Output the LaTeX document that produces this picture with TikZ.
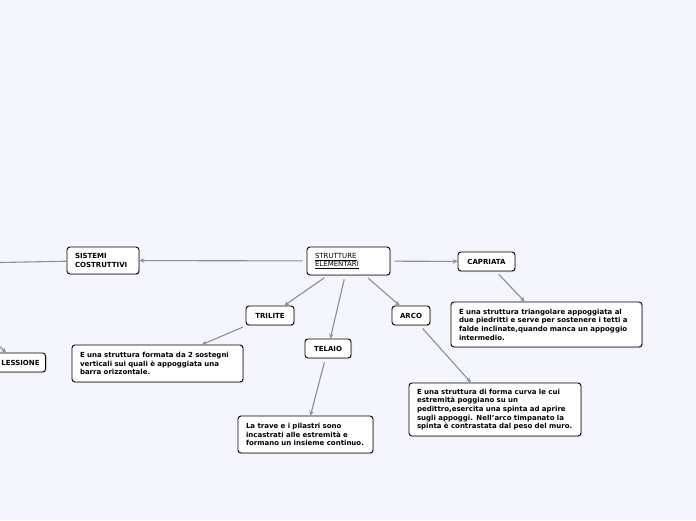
\documentclass[tikz,border=0pt]{standalone}
\usepackage{fontspec}
\setmainfont{DejaVu Sans}
\usepackage{tikz}
\usetikzlibrary{arrows,shapes,positioning,shadows,calc}
\definecolor{bgblue}{RGB}{244,245,253}
\definecolor{linkgray}{RGB}{138,142,152}

\begin{document}
\begin{tikzpicture}[
    x=1pt,y=-1pt,
    topic/.style={rectangle,draw,fill=white,rounded corners=3pt,line width=0.9pt,align=left,
        inner xsep=8pt,inner ysep=4pt,font=\fontsize{7}{8.7}\selectfont\bfseries,
        drop shadow={opacity=0.25,shadow xshift=1pt,shadow yshift=-1pt}},
    arrow/.style={line width=1.1pt,linkgray,->,>=stealth,shorten <=4pt}
]
    \useasboundingbox[fill=bgblue] (0,0) rectangle (696,520);

    \node[topic,text width=67pt,minimum height=28pt,font=\fontsize{7}{8.7}\selectfont] (main) at (348.5,261) {\underline{STRUTTURE}\\\underline{ELEMENTARI}};

    \node[topic,text width=56pt,minimum height=27pt] (sistemi) at (103,260.5) {SISTEMI\\COSTRUTTIVI};
    \node[topic,minimum width=57pt,minimum height=19pt] (capriata) at (486.5,261.5) {CAPRIATA};
    \node[topic,minimum width=48pt,minimum height=19pt] (trilite) at (270,315.5) {TRILITE};
    \node[topic,minimum width=46pt,minimum height=19pt] (telaio) at (328,348.5) {TELAIO};
    \node[topic,minimum width=38pt,minimum height=19pt] (arco) at (411,315.5) {ARCO};
    \node[topic,minimum height=19pt,anchor=east,inner xsep=6pt,text width=52pt,align=right] (flessione) at (46,362.5) {LESSIONE};

    \node[topic,text width=175pt,minimum height=45pt] (capriatatxt) at (546.5,324.5) {E una struttura triangolare appoggiata al\\due piedritti e serve per sostenere i tetti a\\falde inclinate,quando manca un appoggio\\intermedio.};
    \node[topic,text width=155pt,minimum height=37pt] (trilitetxt) at (157.5,363.5) {E una struttura formata da 2 sostegni\\verticali sui quali è appoggiata una\\barra orizzontale.};
    \node[topic,text width=119pt,minimum height=37pt] (telaiotxt) at (305.5,434.5) {La trave e i pilastri sono\\incastrati alle estremità e\\formano un insieme continuo.};
    \node[topic,text width=156pt,minimum height=53pt] (arcotxt) at (495,409.5) {E una struttura di forma curva le cui\\estremità poggiano su un\\pedittro,esercita una spinta ad aprire\\sugli appoggi. Nell'arco timpanato la\\spinta è contrastata dal peso del muro.};

    \coordinate (leftend) at (0,262.5);
    \coordinate (upleft) at (-4,343);

    \draw[arrow] (main) -- (sistemi);
    \draw[arrow] (main) -- (capriata);
    \draw[arrow] (main) -- (trilite);
    \draw[arrow] (main) -- (telaio);
    \draw[arrow] (main) -- (arco);
    \draw[arrow] (capriata) -- (capriatatxt);
    \draw[arrow] (trilite) -- (trilitetxt);
    \draw[arrow] (telaio) -- (telaiotxt);
    \draw[arrow] (arco) -- (arcotxt);
    \draw[line width=1.1pt,linkgray] (sistemi) -- (leftend);
    \draw[arrow,shorten <=0pt] (upleft) -- (flessione.north west -| 6,0);
\end{tikzpicture}
\end{document}
